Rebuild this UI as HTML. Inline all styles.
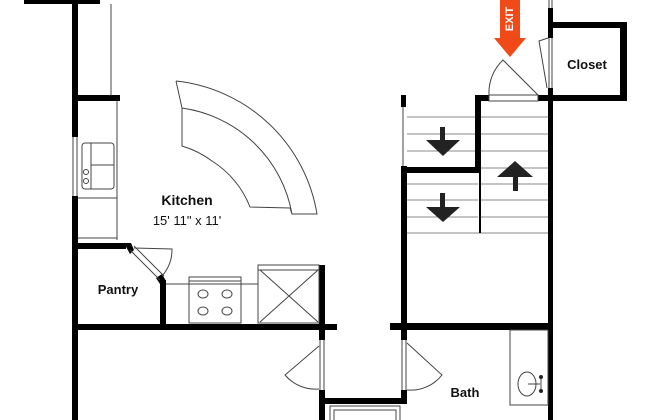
<!DOCTYPE html>
<html><head><style>
html,body{margin:0;padding:0;background:#fff;width:650px;height:420px;overflow:hidden}
svg{display:block}
text{font-family:"Liberation Sans",sans-serif;fill:#111}
</style></head><body>
<svg width="650" height="420" viewBox="0 0 650 420" xmlns="http://www.w3.org/2000/svg">
<g fill="#000">
 <rect x="24" y="0" width="76" height="4"/>
 <rect x="72" y="0" width="6" height="137"/>
 <rect x="72" y="196" width="6" height="224"/>
 <rect x="78" y="95" width="42" height="6"/>
 <rect x="78" y="243" width="48" height="6"/>
 <polygon points="124,243 131,243 134,250 130,254"/>
 <polygon points="156,278 162,274 166,281 166,284 160,284"/>
 <rect x="160" y="280" width="6" height="46"/>
 <rect x="72" y="324" width="265" height="6"/>
 <rect x="390" y="323" width="160" height="7"/>
 <rect x="319" y="265" width="6" height="75"/>
 <rect x="319" y="390" width="6" height="30"/>
 <rect x="401" y="166" width="6" height="174"/>
 <rect x="401" y="390" width="6" height="14"/>
 <rect x="319" y="398" width="88" height="6"/>
 <rect x="401" y="95" width="5" height="12"/>
 <rect x="401" y="167" width="80" height="6"/>
 <rect x="475" y="95" width="6" height="78"/>
 <rect x="475" y="95" width="14" height="6"/>
 <rect x="538" y="95" width="15" height="6"/>
 <rect x="548" y="8" width="5" height="30"/>
 <rect x="548" y="88" width="5" height="332"/>
 <rect x="550" y="22" width="77" height="6"/>
 <rect x="620" y="22" width="7" height="79"/>
 <rect x="550" y="95" width="77" height="6"/>
</g>
<g fill="none" stroke="#444" stroke-width="1">
 <line x1="73" y1="137" x2="73" y2="196"/><line x1="77" y1="137" x2="77" y2="196"/>
 <line x1="111" y1="4" x2="111" y2="95"/>
 <line x1="117" y1="101" x2="117" y2="240"/>
 <line x1="78" y1="198" x2="117" y2="198"/>
 <line x1="78" y1="238" x2="117" y2="238"/>
 <rect x="82" y="143" width="32" height="46" rx="3"/>
 <line x1="91" y1="165" x2="114" y2="165"/><line x1="91" y1="143" x2="91" y2="189"/>
 <circle cx="86" cy="172" r="2.5"/><circle cx="86" cy="181" r="2.5"/>
 <line x1="130" y1="250" x2="160" y2="280"/><line x1="134" y1="246" x2="164" y2="276"/>
 <path d="M162,276 A40,40 0 0 0 172,249 L134,248"/>
 <line x1="166" y1="284" x2="258" y2="284"/>
 <rect x="189" y="277" width="52" height="46"/>
 <line x1="189" y1="281" x2="241" y2="281"/>
 <ellipse cx="203" cy="294" rx="5" ry="4"/><ellipse cx="227" cy="294" rx="5" ry="4"/>
 <ellipse cx="203" cy="311" rx="5" ry="4"/><ellipse cx="227" cy="311" rx="5" ry="4"/>
 <rect x="258" y="265" width="61" height="58"/>
 <line x1="258" y1="270" x2="319" y2="270"/>
 <line x1="260" y1="270" x2="318" y2="322"/><line x1="318" y1="270" x2="260" y2="322"/>
 <path d="M176,81 A160,160 0 0 1 317,214 L292,214 A130,130 0 0 0 182,108 L182,146 A95,95 0 0 1 212,161 A95,95 0 0 1 250,207 L290,208 L292,214 M176,81 L182,108"/>
 <line x1="320" y1="340" x2="320" y2="390"/><line x1="324" y1="340" x2="324" y2="390"/>
 <path d="M319,346 L285,375 A40,40 0 0 0 319,389"/>
 <line x1="402" y1="340" x2="402" y2="390"/><line x1="406" y1="340" x2="406" y2="390"/>
 <path d="M407,343 L442,375 A40,40 0 0 1 407,390"/>
 <rect x="330" y="406" width="70" height="20"/><rect x="334" y="410" width="62" height="20"/>
 <line x1="403" y1="107" x2="403" y2="166"/>
 <g stroke="#888">
 <line x1="407" y1="117" x2="475" y2="117"/><line x1="407" y1="134" x2="475" y2="134"/><line x1="407" y1="151" x2="475" y2="151"/>
 <line x1="407" y1="184" x2="478" y2="184"/><line x1="407" y1="200" x2="478" y2="200"/><line x1="407" y1="217" x2="478" y2="217"/><line x1="407" y1="233" x2="548" y2="233"/>
 <line x1="481" y1="117" x2="548" y2="117"/><line x1="481" y1="134" x2="548" y2="134"/><line x1="481" y1="151" x2="548" y2="151"/><line x1="481" y1="168" x2="548" y2="168"/><line x1="481" y1="184" x2="548" y2="184"/><line x1="481" y1="200" x2="548" y2="200"/><line x1="481" y1="217" x2="548" y2="217"/>
 </g>
 <line x1="480" y1="173" x2="480" y2="233" stroke="#000" stroke-width="2"/>
 <rect x="489" y="95" width="49" height="6"/>
 <path d="M489,95 A45,45 0 0 1 503,60 L538,95"/>
 <line x1="549" y1="38" x2="549" y2="88"/><line x1="552" y1="38" x2="552" y2="88"/>
 <path d="M548,38 L539,41 L547,88"/>
 <line x1="549" y1="0" x2="549" y2="8"/><line x1="552" y1="0" x2="552" y2="8"/>
 <rect x="510" y="330" width="38" height="75"/>
 <ellipse cx="527" cy="384" rx="9" ry="12"/>
 <line x1="528" y1="384" x2="540" y2="384"/><line x1="541" y1="376" x2="541" y2="392"/>
</g>
<g fill="#222">
 <path d="M440,127 h5 v13 h15 l-17,16 l-17,-16 h14z"/>
 <path d="M440,193 h5 v14 h15 l-17,15 l-17,-15 h14z"/>
 <path d="M513,191 h5 v-14 h15 l-18,-16 l-18,16 h16z"/>
 <circle cx="541" cy="377" r="2"/><circle cx="541" cy="391" r="2"/>
</g>
<path d="M500,0 h20 v38 h6 l-16,19 l-16,-19 h6z" fill="#f04a18"/>
<text x="510" y="19" transform="rotate(-90 510 19)" text-anchor="middle" dominant-baseline="central" font-size="11" font-weight="bold" style="fill:#fff">EXIT</text>
<text x="187" y="205" text-anchor="middle" font-size="14" font-weight="bold">Kitchen</text>
<text x="187" y="225" text-anchor="middle" font-size="13">15' 11" x 11'</text>
<text x="118" y="294" text-anchor="middle" font-size="13" font-weight="bold">Pantry</text>
<text x="587" y="69" text-anchor="middle" font-size="13" font-weight="bold">Closet</text>
<text x="465" y="397" text-anchor="middle" font-size="13" font-weight="bold">Bath</text>
</svg>
</body></html>
